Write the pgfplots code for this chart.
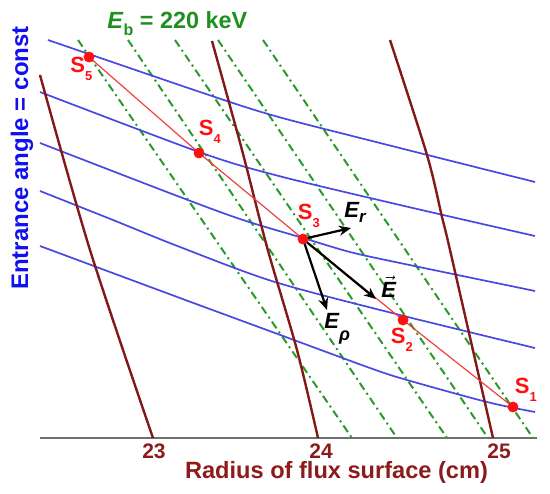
\documentclass[border=0pt]{standalone}
\usepackage{pgfplots}
\pgfplotsset{compat=1.18}
\usepackage{fontspec}
\setmainfont{Liberation Sans}
\usetikzlibrary{arrows.meta}

\definecolor{brn}{HTML}{821818}
\definecolor{bln}{HTML}{4848E2}
\definecolor{grn}{HTML}{2A9A2A}
\definecolor{redl}{HTML}{F04040}
\definecolor{sred}{HTML}{FF1010}
\definecolor{ylab}{HTML}{1010F0}
\definecolor{xlab}{HTML}{8C1C1C}
\definecolor{ttl}{HTML}{1F8F1F}
\definecolor{basegray}{HTML}{707070}

% S label with a low, small subscript
\newcommand{\slab}[1]{S\raisebox{-4pt}{\fontsize{6.5}{6.5}\selectfont #1}}

\begin{document}
\begin{tikzpicture}
\begin{axis}[
    scale only axis, width=275pt, height=246.5pt,
    xmin=0, xmax=550, ymin=0, ymax=493, y dir=reverse,
    hide axis, clip=false,
]
\path (axis cs:0,0) rectangle (axis cs:550,493);

% radius axis
\addplot[basegray, line width=1.2pt] coordinates {(40,438) (537,438)};

% constant beam energy lines
\addplot[grn, line width=1pt, dash pattern=on 4pt off 2pt on 1pt off 2pt] coordinates {(78,40) (352,438)};
\addplot[grn, line width=1pt, dash pattern=on 4pt off 2pt on 1pt off 2pt] coordinates {(128,40) (397,438)};
\addplot[grn, line width=1pt, dash pattern=on 4pt off 2pt on 1pt off 2pt] coordinates {(175,40) (447,438)};
\addplot[grn, line width=1pt, dash pattern=on 4pt off 2pt on 1pt off 2pt] coordinates {(218,40) (488,438)};
\addplot[grn, line width=1pt, dash pattern=on 4pt off 2pt on 1pt off 2pt] coordinates {(263,40) (533,438)};

% entrance angle = const
\addplot[bln, line width=0.85pt, smooth] coordinates {(48,40) (203,93) (275,116) (380,143) (535,182)};
\addplot[bln, line width=0.85pt, smooth] coordinates {(40,92) (199,152) (275,175) (400,205) (535,236)};
\addplot[bln, line width=0.85pt, smooth] coordinates {(40,143) (180,197) (243,220) (303,238) (350,252) (400,263) (535,291)};
\addplot[bln, line width=0.85pt, smooth] coordinates {(40,191) (113,220) (180,247) (275,282) (400,315) (535,348)};
\addplot[bln, line width=0.85pt, smooth] coordinates {(40,246) (180,298) (275,333) (370,368) (407,380) (487,402) (535,412)};

% flux surfaces
\addplot[brn, line width=1.2pt, smooth] coordinates {(40,75) (90,250) (153,438)};
\addplot[brn, line width=1.2pt, smooth] coordinates {(212,41) (242,150) (267,247) (297,350) (318,438)};
\addplot[brn, line width=1.2pt, smooth] coordinates {(390,40) (427,155) (442,217) (450,250) (493,438)};

% detector line
\addplot[redl, line width=0.6pt] coordinates {(89,57) (199,153) (303,239) (403,320) (513,407)};

% field vectors at S3
\addplot[black, line width=1.1pt, -{Stealth[length=6pt,width=5pt]}] coordinates {(303,239) (351,228)};
\addplot[black, line width=1.1pt, -{Stealth[length=6pt,width=5pt]}] coordinates {(303,239) (376,299)};
\addplot[black, line width=1.1pt, -{Stealth[length=6pt,width=5pt]}] coordinates {(303,239) (327,310)};

% points
\addplot[only marks, mark=*, mark size=2.5pt, color=sred] coordinates {(89,57) (199,153) (303,239) (403,320) (513,407)};

% labels
\node[anchor=base west, inner sep=0pt, text=sred, font=\fontsize{11}{12}\selectfont\bfseries] at (axis cs:70,72) {\slab{5}};
\node[anchor=base west, inner sep=0pt, text=sred, font=\fontsize{11}{12}\selectfont\bfseries] at (axis cs:198.5,135) {\slab{4}};
\node[anchor=base west, inner sep=0pt, text=sred, font=\fontsize{11}{12}\selectfont\bfseries] at (axis cs:297.5,219) {\slab{3}};
\node[anchor=base west, inner sep=0pt, text=sred, font=\fontsize{11}{12}\selectfont\bfseries] at (axis cs:390.5,343) {\slab{2}};
\node[anchor=base west, inner sep=0pt, text=sred, font=\fontsize{11}{12}\selectfont\bfseries] at (axis cs:514.5,393) {\slab{1}};

\node[anchor=base west, inner sep=0pt, font=\fontsize{11}{12}\selectfont\bfseries\itshape] at (axis cs:344,217)
  {E\raisebox{-2.5pt}{\fontsize{8.5}{8.5}\selectfont r}};
\node[anchor=base west, inner sep=0pt, font=\fontsize{11}{12}\selectfont\bfseries\itshape] at (axis cs:381,297)
  {$\vec{\mbox{\bfseries\itshape E}}$};
\node[anchor=base west, inner sep=0pt, font=\fontsize{11}{12}\selectfont\bfseries\itshape] at (axis cs:324,328)
  {E\raisebox{-6pt}{\fontsize{9}{9}\selectfont ρ}};

\node[anchor=base west, inner sep=0pt, text=ttl, font=\fontsize{11.7}{13}\selectfont\bfseries] at (axis cs:107,28)
  {\textit{E}\raisebox{-3.5pt}{\fontsize{8}{8}\selectfont b} = 220 keV};

\node[anchor=base, inner sep=0pt, text=xlab, font=\fontsize{10.5}{12}\selectfont\bfseries] at (axis cs:154,458) {23};
\node[anchor=base, inner sep=0pt, text=xlab, font=\fontsize{10.5}{12}\selectfont\bfseries] at (axis cs:321,458) {24};
\node[anchor=base, inner sep=0pt, text=xlab, font=\fontsize{10.5}{12}\selectfont\bfseries] at (axis cs:499,458) {25};

\node[anchor=base, inner sep=0pt, text=xlab, font=\fontsize{11.8}{14}\selectfont\bfseries] at (axis cs:336.5,478)
  {Radius of flux surface (cm)};
\node[anchor=base, inner sep=0pt, rotate=90, text=ylab, font=\fontsize{12}{14}\selectfont\bfseries] at (axis cs:28,158)
  {Entrance angle = const};
\end{axis}
\end{tikzpicture}
\end{document}
